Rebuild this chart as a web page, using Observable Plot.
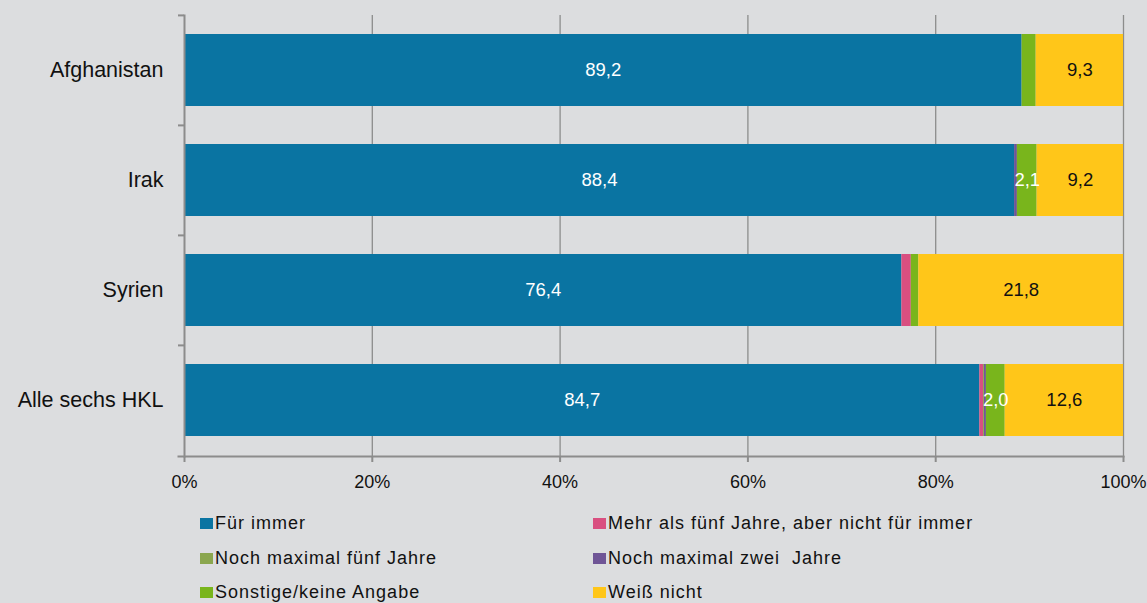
<!DOCTYPE html>
<html>
<head>
<meta charset="utf-8">
<script src="https://cdn.jsdelivr.net/npm/d3@7"></script>
<script src="https://cdn.jsdelivr.net/npm/@observablehq/plot@0.6"></script>
<style>
  html, body { margin: 0; padding: 0; background: #dcdddf; }
  #wrap { position: relative; width: 1147px; height: 603px; overflow: hidden; font-family: "Liberation Sans", Arial, sans-serif; }
  #legend { position: absolute; left: 0; top: 0; width: 1147px; height: 603px; pointer-events: none; }
  .item { position: absolute; font-size: 18px; color: #111; letter-spacing: 1px; white-space: pre; line-height: 1; }
  .sw { display: inline-block; width: 13px; height: 11px; margin-right: 2px; vertical-align: 0px; }
</style>
</head>
<body>
<div id="wrap"><div id="chart"></div><div id="legend"></div></div>
<script>
const categories = ["Afghanistan", "Irak", "Syrien", "Alle sechs HKL"];
const series = ["Für immer", "Mehr als fünf Jahre, aber nicht für immer", "Noch maximal fünf Jahre", "Noch maximal zwei  Jahre", "Sonstige/keine Angabe", "Weiß nicht"];
const colors = ["#0a74a2", "#d94f80", "#8aa64e", "#6f5596", "#79b51c", "#ffc619"];
const fuerImmer = [89.2, 88.4, 76.4, 84.7];
const mehrAlsFuenf = [0, 0, 1.0, 0.4];
const maxFuenf = [0, 0, 0, 0.1];
const maxZwei = [0, 0.3, 0, 0.2];
const sonstige = [1.5, 2.1, 0.8, 2.0];
const weissNicht = [9.3, 9.2, 21.8, 12.6];
const xTicks = [0, 20, 40, 60, 80, 100];

const seriesValues = [fuerImmer, mehrAlsFuenf, maxFuenf, maxZwei, sonstige, weissNicht];
const rows = [];
categories.forEach((cat, i) => {
  series.forEach((s, j) => {
    rows.push({cat, series: s, value: seriesValues[j][i]});
  });
});
const fmt = v => d3.format(".1f")(v).replace(".", ",");
const labelled = d => d.series === "Für immer" || d.series === "Weiß nicht" || (d.series === "Sonstige/keine Angabe" && d.value >= 2);
const axisGray = "#8c8c8c";

const chart = Plot.plot({
  width: 1147,
  height: 500,
  marginLeft: 184,
  marginRight: 24,
  marginTop: 15,
  marginBottom: 44,
  style: {background: "transparent", fontFamily: "'Liberation Sans', Arial, sans-serif", overflow: "visible"},
  x: {domain: [0, 100], ticks: xTicks, tickFormat: d => d + "%"},
  y: {domain: categories, paddingInner: 0.345, paddingOuter: 0.1725},
  color: {domain: series, range: colors},
  marks: [
    Plot.ruleX(xTicks.filter(d => d > 0), {stroke: axisGray, strokeWidth: 1.3}),
    Plot.barX(rows, Plot.stackX({x: "value", y: "cat", fill: "series", order: series})),
    Plot.text(rows, Plot.stackX({x: "value", y: "cat", z: "series", order: series,
      text: d => (labelled(d) && d.series !== "Weiß nicht") ? fmt(d.value) : "", fill: "white", fontSize: 18.5})),
    Plot.text(rows, Plot.stackX({x: "value", y: "cat", z: "series", order: series,
      text: d => (labelled(d) && d.series === "Weiß nicht") ? fmt(d.value) : "", fill: "#111", fontSize: 18.5})),
    Plot.frame({anchor: "left", stroke: axisGray, strokeWidth: 2}),
    Plot.frame({anchor: "bottom", stroke: axisGray, strokeWidth: 2, insetLeft: -6}),
    Plot.ruleY(categories, {y: d => d, x1: 0, x2: 0, insetLeft: -6, dy: -55.1, stroke: axisGray, strokeWidth: 2}),
    Plot.axisX({ticks: xTicks, tickFormat: d => d + "%", tickSize: 6, tickPadding: 13, fontSize: 18, stroke: axisGray, strokeWidth: 2, color: "#111", label: null}),
    Plot.axisY({tickSize: 0, tickPadding: 21, fontSize: 21.5, color: "#111", label: null})
  ]
});
document.getElementById("chart").appendChild(chart);

// legend
const legend = document.getElementById("legend");
const legendPos = [[200, 514], [593, 514], [200, 549], [593, 549], [200, 583], [593, 583]];
series.forEach((s, i) => {
  const el = document.createElement("div");
  el.className = "item";
  el.style.left = legendPos[i][0] + "px";
  el.style.top = legendPos[i][1] + "px";
  const sw = document.createElement("span");
  sw.className = "sw";
  sw.style.background = colors[i];
  el.appendChild(sw);
  el.appendChild(document.createTextNode(s));
  legend.appendChild(el);
});
</script>
</body>
</html>
